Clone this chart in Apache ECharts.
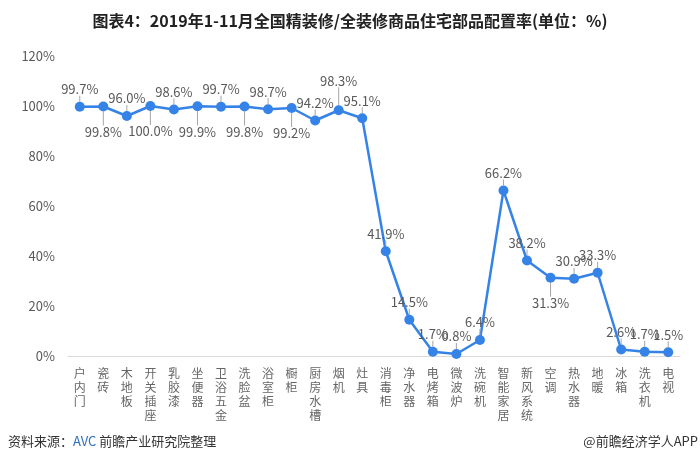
<!DOCTYPE html>
<html>
<head>
<meta charset="utf-8">
<script src="https://cdn.jsdelivr.net/npm/echarts@6/dist/echarts.min.js"></script>
<style>
  html, body { margin: 0; padding: 0; background: #fff; }
  #chart { width: 700px; height: 464px; }
</style>
</head>
<body>
<div id="chart"></div>
<script>
  const categories = ['户内门', '瓷砖', '木地板', '开关插座', '乳胶漆', '坐便器', '卫浴五金', '洗脸盆', '浴室柜', '橱柜',
    '厨房水槽', '烟机', '灶具', '消毒柜', '净水器', '电烤箱', '微波炉', '洗碗机', '智能家居', '新风系统',
    '空调', '热水器', '地暖', '冰箱', '洗衣机', '电视'];
  const rates = [99.7, 99.8, 96.0, 100.0, 98.6, 99.9, 99.7, 99.8, 98.7, 99.2,
    94.2, 98.3, 95.1, 41.9, 14.5, 1.7, 0.8, 6.4, 66.2, 38.2,
    31.3, 30.9, 33.3, 2.6, 1.7, 1.5];
  const yTicks = [0, 20, 40, 60, 80, 100, 120];

  // 标签位置：下方的带引线
  const belowIdx = [1, 3, 5, 7, 9, 20];
  const labelOffsets = {3: [4, 0], 19: [10, 6], 22: [24, 0], 23: [-20, 0], 15: [-3, 0]};

  const font = '"Noto Sans CJK SC", "Microsoft YaHei", sans-serif';
  const myChart = echarts.init(document.getElementById('chart'));

  const seriesData = rates.map(function (v, i) {
    const item = {value: v};
    const label = {};
    if (belowIdx.indexOf(i) >= 0) {
      label.position = 'bottom';
      label.distance = 4;
    }
    if (labelOffsets[i]) label.offset = labelOffsets[i];
    item.label = label;
    return item;
  });

  const option = {
    animation: false,
    title: {
      text: '图表4：2019年1-11月全国精装修/全装修商品住宅部品配置率(单位：%)',
      left: 'center',
      top: 8,
      textStyle: {fontFamily: font, fontSize: 16, fontWeight: 'bold', color: '#222'}
    },
    grid: {left: 68, right: 20, top: 56, bottom: 108},
    xAxis: {
      type: 'category',
      data: categories,
      axisLine: {lineStyle: {color: '#d9d9d9', width: 1}},
      axisTick: {show: false},
      axisLabel: {
        interval: 0,
        margin: 10,
        color: '#666',
        fontFamily: font,
        fontSize: 12,
        lineHeight: 14,
        verticalAlign: 'top',
        formatter: function (v) { return v.split('').join('\n'); }
      }
    },
    yAxis: {
      type: 'value',
      min: yTicks[0],
      max: yTicks[yTicks.length - 1],
      interval: 20,
      axisLine: {show: false},
      axisTick: {show: false},
      splitLine: {show: false},
      axisLabel: {color: '#595959', fontFamily: font, fontSize: 13, margin: 13, formatter: '{value}%'}
    },
    series: [{
      type: 'line',
      data: seriesData,
      symbol: 'circle',
      symbolSize: 10,
      itemStyle: {color: '#3683e8'},
      lineStyle: {color: '#3683e8', width: 2.5},
      label: {
        show: true,
        position: 'top',
        distance: 6,
        color: '#595959',
        fontFamily: font,
        fontSize: 13,
        formatter: function (p) { return p.value.toFixed(1) + '%'; }
      },
      labelLine: {show: true, lineStyle: {color: '#a6a6a6', width: 1}},
      labelLayout: function (p) {
        if (belowIdx.indexOf(p.dataIndex) >= 0) return {dy: 10};
        if (p.dataIndex === 11) return {dy: -12};
        return {};
      }
    }],
    graphic: [
      {
        type: 'text', left: 8, top: 435,
        style: {
          text: '{a|资料来源：}{b|AVC}{a| 前瞻产业研究院整理}',
          rich: {
            a: {fontFamily: font, fontSize: 13, fill: '#333'},
            b: {fontFamily: font, fontSize: 13, fill: '#2f6fc4'}
          }
        }
      },
      {
        type: 'text', right: 2, top: 435,
        style: {text: '@前瞻经济学人APP', fontFamily: font, fontSize: 13, fill: '#333'}
      }
    ]
  };
  myChart.setOption(option);
</script>
</body>
</html>
